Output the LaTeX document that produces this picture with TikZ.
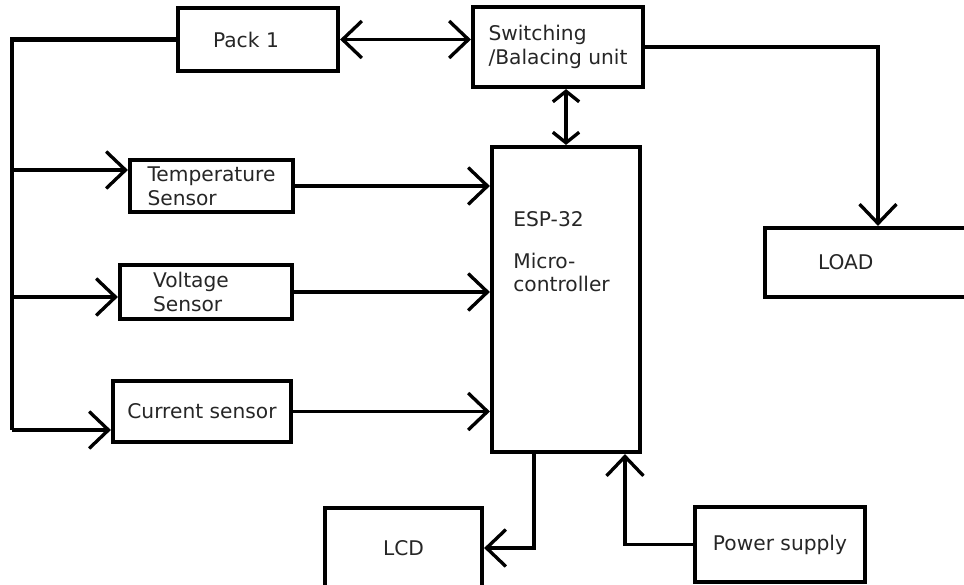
\documentclass[tikz,border=0pt]{standalone}
\usepackage{fontspec}
\setmainfont{DejaVu Sans}
\usetikzlibrary{arrows.meta}

\begin{document}
\begin{tikzpicture}[x=0.02cm, y=-0.02cm,
	>={Straight Barb[length=11pt,width=21pt]},
	blk/.style={draw, line width=2.4pt, rectangle, inner ysep=1pt, font=\fontsize{11.5}{13.5}\selectfont, text=black!85},
	wire/.style={line width=1.9pt},
	rail/.style={line width=2.5pt}]

	\useasboundingbox (0,0) rectangle (964,585);

	%battery and switching
	\node[blk, minimum width=3.2cm, minimum height=1.26cm, align=left, text width=1.8cm, inner xsep=0.7cm] (pack) at (258,39.5) {Pack 1};
	\node[blk, minimum width=3.4cm, minimum height=1.6cm, align=left] (sw) at (558,47) {Switching\\/Balacing unit};
	\node[blk, minimum width=4.2cm, minimum height=1.38cm, align=left, text width=2.08cm, inner xsep=1.06cm] (load) at (870,262.5) {LOAD};

	%sensors
	\node[blk, minimum width=3.26cm, minimum height=1.04cm, align=left] (temp) at (211.5,186) {Temperature\\Sensor};
	\node[blk, minimum width=3.44cm, minimum height=1.08cm, align=left, text width=2.12cm, inner xsep=0.66cm] (volt) at (206,292) {Voltage\\Sensor};
	\node[blk, minimum width=3.56cm, minimum height=1.22cm] (curr) at (202,411.5) {Current sensor};

	%controller
	\node[blk, minimum width=2.96cm, minimum height=6.1cm] (esp) at (566,299.5) {};
	\node[align=left, anchor=north west, inner sep=0pt, font=\fontsize{11.5}{13}\selectfont, text=black!85] (esptxt) at (513,211) {ESP-32\\[11pt]Micro-\\controller};

	%display and supply
	\node[blk, minimum width=3.14cm, minimum height=1.6cm] (lcd) at (403.5,548) {LCD};
	\node[blk, minimum width=3.4cm, minimum height=1.5cm] (ps) at (780,544.5) {Power supply};

	%left rail
	\coordinate (bus) at (12,430);
	\coordinate (tin) at ([yshift=0.32cm]temp.west);
	\coordinate (vin) at ([yshift=-0.1cm]volt.west);
	\draw[rail] (pack.west) -| (bus);
	\draw[wire, ->] (tin -| bus) -- (tin);
	\draw[wire, ->] (vin -| bus) -- (vin);
	\draw[wire, ->] (bus) -- (bus -| curr.west);

	%sensor outputs
	\draw[wire, ->] (temp.east) -- (temp.east -| esp.west);
	\draw[wire, ->] (volt.east) -- (volt.east -| esp.west);
	\draw[wire, ->] (curr.east) -- (curr.east -| esp.west);

	%top links
	\draw[wire, <->] (pack.east) -- (pack.east -| sw.west);
	\draw[wire, {Straight Barb[length=6pt,width=15pt]}-{Straight Barb[length=6pt,width=15pt]}] (esp.north) -- (esp.north |- sw.south);
	\draw[wire, ->] (sw.east) -| ([xshift=0.16cm]load.north);

	%bottom links
	\draw[wire, ->] ([xshift=-0.64cm]esp.south) |- (lcd.east);
	\draw[wire, ->] (ps.west) -| ([xshift=1.18cm]esp.south);

\end{tikzpicture}
\end{document}
